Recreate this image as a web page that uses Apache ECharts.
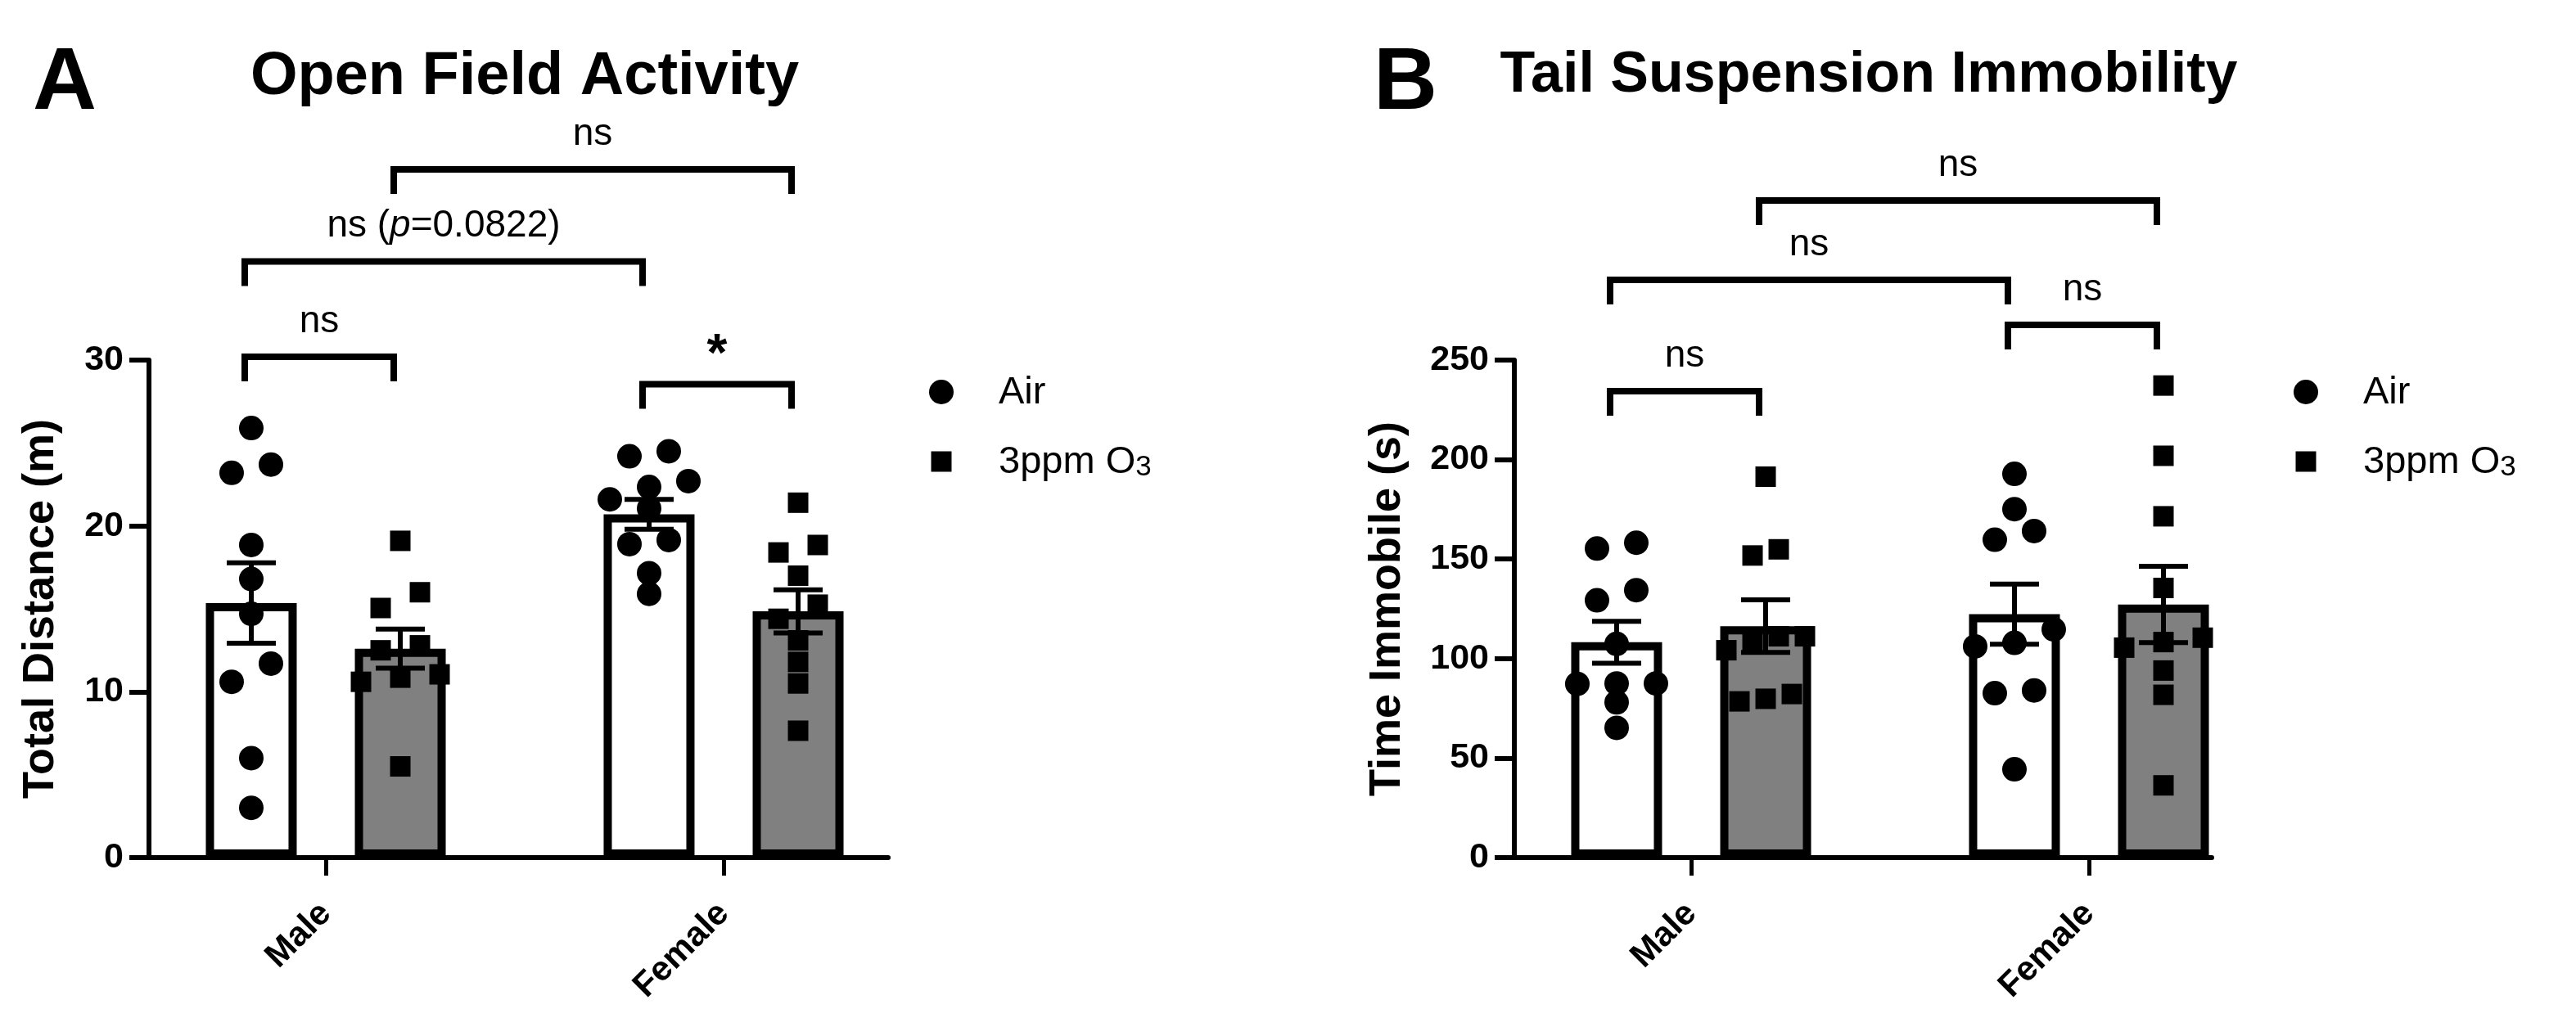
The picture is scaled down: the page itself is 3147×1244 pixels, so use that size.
<!DOCTYPE html>
<html><head><meta charset="utf-8">
<script src="https://cdn.jsdelivr.net/npm/echarts@6/dist/echarts.min.js"></script>
<style>html,body{margin:0;padding:0;background:#fff}#c{width:3147px;height:1244px}</style>
</head><body><div id="c"></div>
<script>
// ---------------- data ----------------
const categories = ['Male', 'Female'];
const groupNames = ['Air', '3ppm O3'];

// Panel A: Open Field Activity — Total Distance (m)
const distTicks = [0, 10, 20, 30];
const distAirMean = [15.35, 20.7];
const distAirSem = [2.42, 0.9];
const distO3Mean = [12.6, 14.85];
const distO3Sem = [1.18, 1.3];
const distMaleAir = [25.9, 23.7, 23.2, 18.85, 16.8, 14.7, 11.7, 10.6, 6.0, 3.0];
const distMaleO3 = [19.1, 16.0, 15.05, 12.8, 12.5, 11.05, 10.85, 10.6, 5.5];
const distFemaleAir = [24.5, 24.2, 22.7, 22.35, 21.6, 21.05, 19.15, 18.9, 17.15, 15.9];
const distFemaleO3 = [21.4, 18.85, 18.4, 17.0, 15.25, 14.4, 13.1, 11.8, 10.5, 7.65];
// brackets: [fromCategory, fromGroup, toCategory, toGroup, level]
const distBrackets = [[0, 0, 0, 1, 30.2], [1, 0, 1, 1, 28.55], [0, 0, 1, 0, 35.95], [0, 1, 1, 1, 41.5]];
const distBracketLabels = ['ns', '*', 'ns (p=0.0822)', 'ns'];

// Panel B: Tail Suspension Immobility — Time Immobile (s)
const timeTicks = [0, 50, 100, 150, 200, 250];
const timeAirMean = [108.2, 122.3];
const timeAirSem = [10.5, 15.1];
const timeO3Mean = [116.3, 127.2];
const timeO3Sem = [13.2, 19.2];
const timeMaleAir = [158.2, 155.3, 134.4, 129.3, 107.4, 87.5, 87.5, 87.3, 78.0, 65.2];
const timeMaleO3 = [191.4, 154.9, 151.8, 111.2, 111.2, 108.3, 104.2, 82.2, 79.8, 78.5];
const timeFemaleAir = [192.8, 175.1, 164.1, 159.7, 114.7, 107.9, 106.1, 84.0, 82.6, 44.4];
const timeFemaleO3 = [237.2, 201.9, 171.5, 135.5, 110.5, 108.3, 105.5, 94.0, 81.8, 36.3];
const timeBrackets = [[0, 0, 0, 1, 234.4], [1, 0, 1, 1, 267.7], [0, 0, 1, 0, 290.3], [0, 1, 1, 1, 330.2]];
const timeBracketLabels = ['ns', 'ns', 'ns', 'ns'];

// ---------------- layout / style ----------------
const FONT = '"Liberation Sans", Arial, Helvetica, sans-serif';
const GRID_TOP = 440, GRID_H = 608, BAND = 486;
const BAR_W = 111, BAR_GAP = 0.64, BORDER = 10;
const GROUP_OFF = (BAR_W + BAR_W * BAR_GAP) / 2;
const DOT_R = 15, SQ = 25;
const SQUARE_ICON = 'path://M-1,-1M11,11M0,0L10,0L10,10L0,10Z';

const panels = [
  { letter: 'A', title: 'Open Field Activity', letterX: 40, titleX: 641, titleSize: 74,
    dataLeft: 155, axisLeft: 182, axisRight: 1085, nameGap: 105,
    yName: 'Total Distance (m)', ticks: distTicks,
    airMean: distAirMean, airSem: distAirSem, o3Mean: distO3Mean, o3Sem: distO3Sem,
    airPts: [distMaleAir, distFemaleAir], o3Pts: [distMaleO3, distFemaleO3],
    brackets: distBrackets, labels: distBracketLabels, legendX: 1200 },
  { letter: 'B', title: 'Tail Suspension Immobility', letterX: 1678, titleX: 2283, titleSize: 70,
    dataLeft: 1823, axisLeft: 1850, axisRight: 2702, nameGap: 128,
    yName: 'Time Immobile (s)', ticks: timeTicks,
    airMean: timeAirMean, airSem: timeAirSem, o3Mean: timeO3Mean, o3Sem: timeO3Sem,
    airPts: [timeMaleAir, timeFemaleAir], o3Pts: [timeMaleO3, timeFemaleO3],
    brackets: timeBrackets, labels: timeBracketLabels, legendX: 2867 }
];

// Row-based dot layout (column scatter) computed from values
function beeswarm(values, ppu) {
  const ROW_H = 22.5, MAX_SPREAD = 96, STEP = 48;
  const order = values.map((v, i) => i).sort((a, b) => values[b] - values[a]);
  const rows = [];
  order.forEach(i => {
    const last = rows[rows.length - 1];
    if (last && (values[last[0]] - values[i]) * ppu < ROW_H) last.push(i); else rows.push([i]);
  });
  const maxN = Math.max(...rows.map(r => r.length));
  const step = maxN > 1 ? Math.min(STEP, MAX_SPREAD / (maxN - 1)) : STEP;
  const off = new Array(values.length).fill(0);
  rows.forEach(r => {
    r.sort((a, b) => values[a] - values[b]);
    r.forEach((i, k) => { off[i] = (k - (r.length - 1) / 2) * step; });
  });
  return off;
}

const grids = [], xAxes = [], yAxes = [], series = [], titles = [], legends = [];

panels.forEach((p, gi) => {
  const gData = gi * 2, gAxis = gi * 2 + 1;
  const yMin = p.ticks[0], yMax = p.ticks[p.ticks.length - 1], yInt = p.ticks[1] - p.ticks[0];
  const ppu = GRID_H / (yMax - yMin);

  grids.push({ left: p.dataLeft, top: GRID_TOP, width: BAND * 2, height: GRID_H, containLabel: false, outerBoundsMode: 'none' });
  grids.push({ left: p.axisLeft, top: GRID_TOP, width: p.axisRight - p.axisLeft, height: GRID_H, containLabel: false, outerBoundsMode: 'none' });

  xAxes.push({ gridIndex: gData, type: 'category', data: categories,
    axisLine: { show: false }, splitLine: { show: false },
    axisTick: { show: true, alignWithLabel: true, length: 22, lineStyle: { color: '#000', width: 5 } },
    axisLabel: { rotate: 45, margin: 62, fontSize: 42, fontWeight: 'bold', color: '#000', fontFamily: FONT, interval: 0 } });
  xAxes.push({ gridIndex: gAxis, type: 'value', min: 0, max: 1,
    axisLine: { show: true, onZero: false, lineStyle: { color: '#000', width: 6 } },
    axisTick: { show: false }, axisLabel: { show: false }, splitLine: { show: false } });

  yAxes.push({ gridIndex: gData, type: 'value', min: yMin, max: yMax, interval: yInt, show: false });
  yAxes.push({ gridIndex: gAxis, type: 'value', min: yMin, max: yMax, interval: yInt,
    axisLine: { show: true, onZero: false, lineStyle: { color: '#000', width: 6 } },
    axisTick: { show: true, length: 24, lineStyle: { color: '#000', width: 6 } },
    axisLabel: { margin: 31, fontSize: 43, fontWeight: 'bold', color: '#000', fontFamily: FONT },
    splitLine: { show: false },
    name: p.yName, nameLocation: 'middle', nameGap: p.nameGap, nameRotate: 90, nameMoveOverlap: false,
    nameTextStyle: { fontSize: 54, fontWeight: 'bold', color: '#000', fontFamily: FONT } });

  const means = [p.airMean, p.o3Mean], sems = [p.airSem, p.o3Sem], pts = [p.airPts, p.o3Pts];
  const fills = ['#ffffff', '#808080'];

  // bars
  [0, 1].forEach(g => {
    series.push({ type: 'bar', name: groupNames[g] + ' mean', xAxisIndex: gData, yAxisIndex: gData,
      data: means[g], barWidth: BAR_W, barGap: (BAR_GAP * 100) + '%', z: 2,
      itemStyle: { color: fills[g], borderColor: '#000', borderWidth: BORDER },
      emphasis: { disabled: true }, silent: true });
  });

  // dots
  [0, 1].forEach(g => {
    const data = [];
    categories.forEach((c, ci) => {
      const vals = pts[g][ci];
      const off = beeswarm(vals, ppu);
      vals.forEach((v, i) => data.push([ci, v, off[i]]));
    });
    series.push({ type: 'custom', name: groupNames[g], xAxisIndex: gData, yAxisIndex: gData, z: 3,
      itemStyle: { color: '#000' }, silent: true, data,
      encode: { x: 0, y: 1 },
      renderItem: (params, api) => {
        const pt = api.coord([api.value(0), api.value(1)]);
        const x = pt[0] + (g === 0 ? -GROUP_OFF : GROUP_OFF) + api.value(2);
        if (g === 0) return { type: 'circle', shape: { cx: x, cy: pt[1], r: DOT_R }, style: { fill: '#000' } };
        return { type: 'rect', shape: { x: x - SQ / 2, y: pt[1] - SQ / 2, width: SQ, height: SQ }, style: { fill: '#000' } };
      } });
  });

  // error bars (mean ± SEM)
  const errData = [];
  [0, 1].forEach(g => categories.forEach((c, ci) => errData.push([ci, means[g][ci], sems[g][ci], g])));
  series.push({ type: 'custom', name: 'sem' + gi, xAxisIndex: gData, yAxisIndex: gData, z: 4, silent: true,
    data: errData, encode: { x: 0, y: 1 },
    renderItem: (params, api) => {
      const ci = api.value(0), m = api.value(1), s = api.value(2), g = api.value(3);
      const off = g === 0 ? -GROUP_OFF : GROUP_OFF;
      const hi = api.coord([ci, m + s]), lo = api.coord([ci, m - s]);
      const x = hi[0] + off, cw = 30;
      const st = { stroke: '#000', lineWidth: 6 };
      return { type: 'group', children: [
        { type: 'line', shape: { x1: x, y1: hi[1], x2: x, y2: lo[1] }, style: st },
        { type: 'line', shape: { x1: x - cw, y1: hi[1], x2: x + cw, y2: hi[1] }, style: st },
        { type: 'line', shape: { x1: x - cw, y1: lo[1], x2: x + cw, y2: lo[1] }, style: st }
      ] };
    } });

  // significance brackets
  const labels = p.labels;
  series.push({ type: 'custom', name: 'sig' + gi, xAxisIndex: gData, yAxisIndex: gData, z: 5, silent: true, clip: false,
    data: p.brackets.map(b => [b[0], b[4]]), encode: { x: 0, y: 1 },
    renderItem: (params, api) => {
      const b = p.brackets[params.dataIndex];
      const lab = labels[params.dataIndex];
      const a = api.coord([b[0], b[4]]), e = api.coord([b[2], b[4]]);
      const shift = -8;
      const x1 = a[0] + (b[1] === 0 ? -GROUP_OFF : GROUP_OFF) + shift;
      const x2 = e[0] + (b[3] === 0 ? -GROUP_OFF : GROUP_OFF) + shift;
      const y = a[1], leg = 30;
      let txt = lab;
      if (/p=/.test(lab)) txt = lab.replace(/^(.*\()p(=.*)$/, '{n|$1}{i|p}{n|$2}');
      else txt = '{' + (lab === '*' ? 's' : 'n') + '|' + lab + '}';
      return { type: 'group', children: [
        { type: 'polyline', shape: { points: [[x1, y + leg], [x1, y], [x2, y], [x2, y + leg]] },
          style: { stroke: '#000', lineWidth: 8, fill: null, lineJoin: 'miter', lineCap: 'butt' } },
        { type: 'text', x: (x1 + x2) / 2, y: y - 43,
          style: { text: txt, align: 'center', verticalAlign: 'middle', fill: '#000',
            rich: {
              n: { fontSize: 46, fontFamily: FONT, fill: '#000' },
              i: { fontSize: 46, fontFamily: FONT, fontStyle: 'italic', fill: '#000' },
              s: { fontSize: 64, fontFamily: FONT, fontWeight: 'bold', fill: '#000', padding: [18, 0, 0, 0] }
            } } }
      ] };
    } });

  titles.push({ text: p.letter, left: p.letterX, top: 49, padding: 0,
    textStyle: { fontSize: 108, fontWeight: 'bold', color: '#000', fontFamily: FONT, lineHeight: 108 } });
  titles.push({ text: p.title, left: p.titleX, textAlign: 'center', top: 58, padding: 0,
    textStyle: { fontSize: p.titleSize, fontWeight: 'bold', color: '#000', fontFamily: FONT, lineHeight: p.titleSize } });

  legends.push({ orient: 'vertical', left: p.legendX - 65, top: 457, itemWidth: 130, itemHeight: 30, itemGap: 38,
    selectedMode: false, padding: 0,
    data: [{ name: groupNames[0], icon: 'circle' }, { name: groupNames[1], icon: SQUARE_ICON }],
    formatter: name => name === '3ppm O3' ? '{t|3ppm O}{s|3}' : '{t|' + name + '}',
    textStyle: { color: '#000', fontFamily: FONT, fontSize: 47,
      rich: { t: { fontSize: 47, fontFamily: FONT, color: '#000', lineHeight: 50, verticalAlign: 'bottom' },
              s: { fontSize: 35, fontFamily: FONT, color: '#000', lineHeight: 34, verticalAlign: 'bottom' } } } });
});

const chart = echarts.init(document.getElementById('c'), null, { renderer: 'canvas' });
chart.setOption({
  backgroundColor: '#ffffff',
  animation: false,
  title: titles,
  legend: legends,
  grid: grids,
  xAxis: xAxes,
  yAxis: yAxes,
  series
});
</script>
</body></html>
